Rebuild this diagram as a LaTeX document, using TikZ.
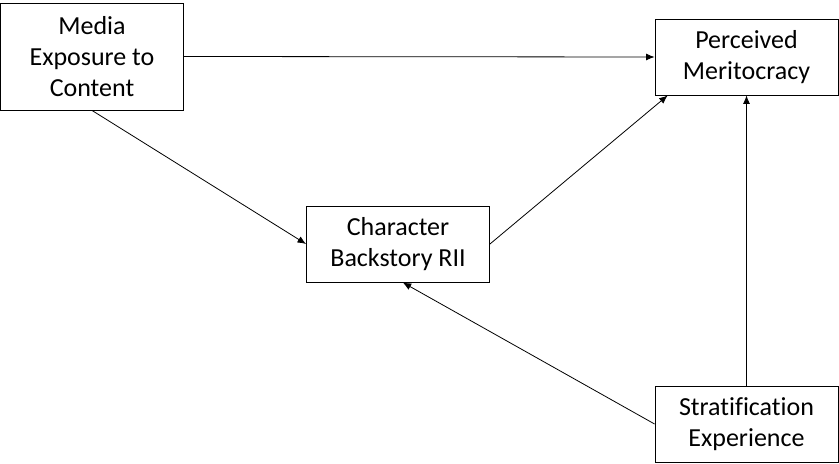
\documentclass[tikz,border=0pt]{standalone}
\usepackage{fontspec}
\setmainfont{Carlito}[Ligatures=NoCommon]
\usepackage{tikz}
\usetikzlibrary{positioning,arrows.meta,calc}

\begin{document}
\begin{tikzpicture}[
    x=1bp, y=-1bp,
    >={Latex[length=8.5bp,width=7bp]},
    font=\fontsize{26bp}{31bp}\selectfont,
    varbox/.style = {draw, line width=0.9bp, align=center,
                     minimum width=183bp, minimum height=76bp, inner sep=0pt},
    arr/.style    = {->, line width=0.8bp},
]
\useasboundingbox (0,0) rectangle (839,464);

%% -- Boxes ------------------------------------------------------------------
\node[varbox, minimum height=107bp] (media) at (92,56.5)
  {Media\\Exposure to\\Content};
\node[varbox] (perc) at (746.5,57)  {Perceived\\Meritocracy};
\node[varbox] (char) at (398,244)   {Character\\Backstory RII};
\node[varbox] (strat) at (746.5,424) {Stratification\\Experience};

%% -- Paths ------------------------------------------------------------------
\draw[arr] (media.east)  -- (perc.west);
\draw[arr] (media.south) -- (char.west);
\draw[arr] (char.east)   -- (perc.-154);
\draw[arr] (strat.west)  -- (char.-83);
\draw[arr] (strat.north) -- (perc.south);

\end{tikzpicture}
\end{document}
